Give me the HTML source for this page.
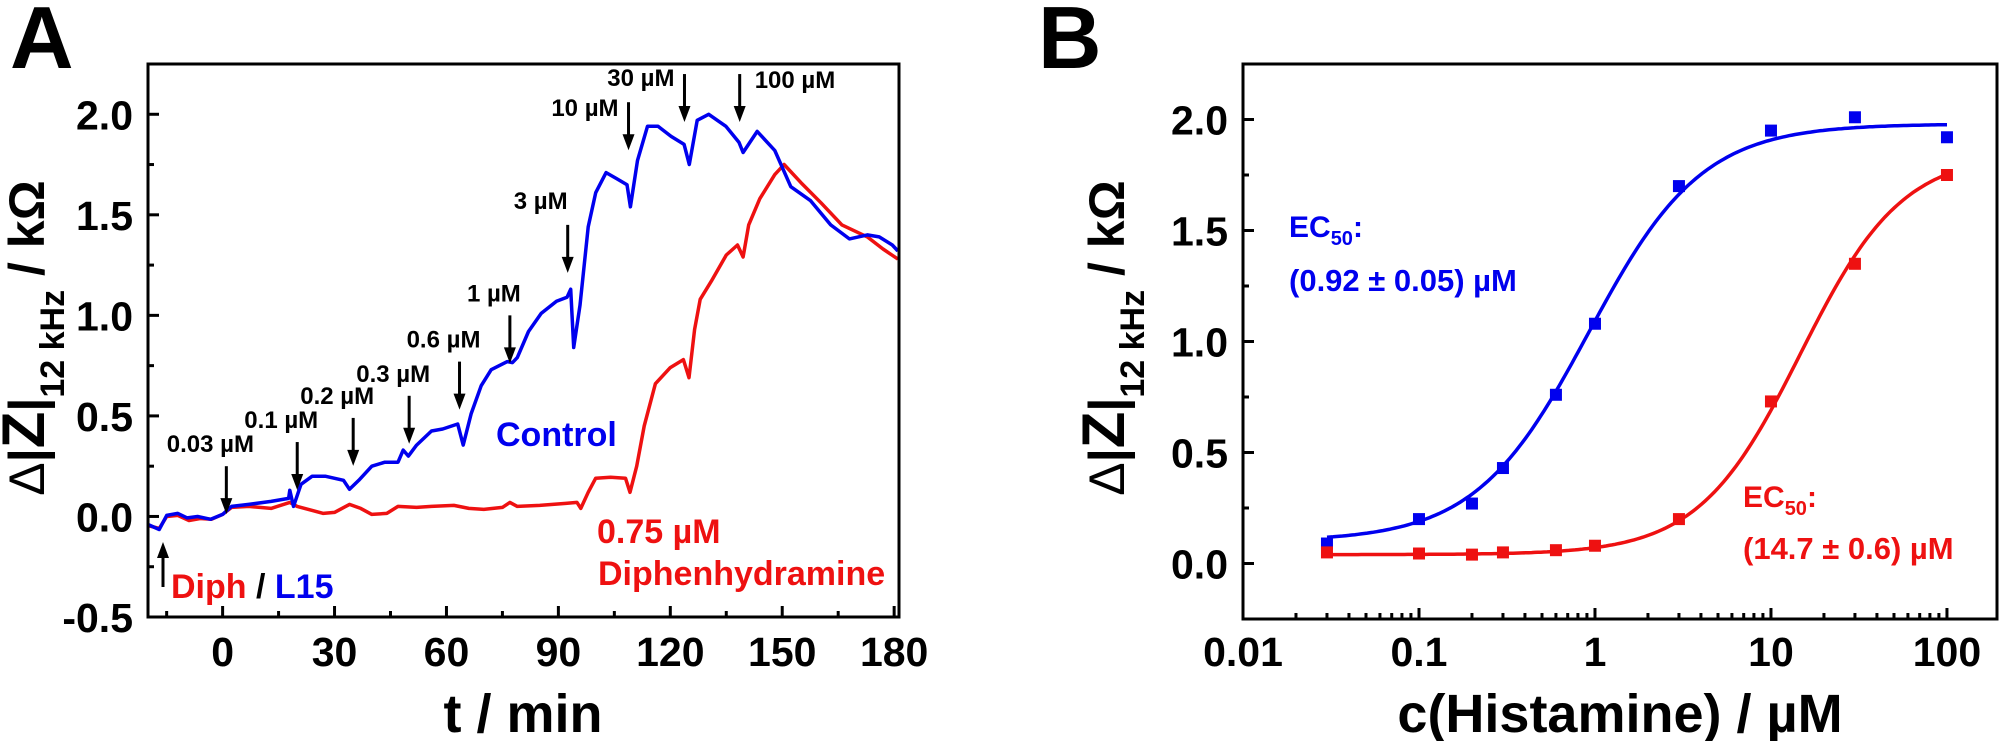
<!DOCTYPE html>
<html><head><meta charset="utf-8"><style>
html,body{margin:0;padding:0;background:#fff;}
svg{display:block;font-family:"Liberation Sans",Arial,sans-serif;font-weight:bold;}
</style></head><body>
<svg id="fig" width="2000" height="741" viewBox="0 0 2000 741" xmlns="http://www.w3.org/2000/svg">
<g id="pa"></g>
<g id="pb"></g>
</svg>
<script>
// ---------- Panel A data ----------
const tBlue=[-20,-17,-15,-12,-9.5,-6.7,-3.2,0,2.4,7,13,17.7,18,19,21,24,27.5,32.4,34,36.5,40,43.5,47,48.4,49.8,52,56,59,63,64.5,66.6,69.3,72,76.3,77.7,79,82,85.4,89.5,92.3,93.3,94.1,95.8,98,100,102.8,105.6,108.4,109.3,111.2,113.9,116.7,120.2,123.7,125.1,127.2,130.3,134.9,138.4,139.5,143.3,148,152.3,157.6,163,168,172.8,176,179.5,181];
const vBlue=[-0.04,-0.065,0.005,0.015,-0.007,0,-0.014,0.01,0.05,0.06,0.075,0.09,0.13,0.05,0.16,0.2,0.2,0.18,0.135,0.18,0.25,0.27,0.27,0.33,0.3,0.355,0.425,0.435,0.46,0.355,0.51,0.65,0.73,0.77,0.765,0.79,0.92,1.01,1.07,1.09,1.13,0.84,1.05,1.44,1.61,1.71,1.68,1.65,1.54,1.77,1.94,1.94,1.89,1.85,1.75,1.97,2.0,1.94,1.86,1.81,1.915,1.82,1.64,1.57,1.45,1.38,1.40,1.39,1.35,1.32];
const tRed=[-20,-17,-15,-12,-9,-6,-3,0,2.4,7,13,18,20,24,27,30,34,37,40,44,47,52,56,62,66,70,75,77,79,85,92,95,96,98,100,104,108,109.2,111,113,116,120,123.5,125,126.5,128,131,135,138,139.5,141,144,148,150.5,155,160.4,166,172.8,177,181];
const vRed=[-0.045,-0.06,0,0.005,-0.02,-0.01,-0.014,0.01,0.045,0.05,0.04,0.07,0.05,0.03,0.015,0.02,0.06,0.04,0.01,0.015,0.05,0.045,0.05,0.055,0.04,0.035,0.045,0.07,0.05,0.055,0.065,0.07,0.04,0.12,0.19,0.195,0.19,0.12,0.25,0.45,0.66,0.74,0.78,0.69,0.93,1.08,1.17,1.3,1.35,1.29,1.45,1.58,1.7,1.75,1.66,1.56,1.45,1.39,1.33,1.28];
const xTicksA=[0,30,60,90,120,150,180];
const yTicksA=[-0.5,0.0,0.5,1.0,1.5,2.0];
const yTickLabelsA=["-0.5","0.0","0.5","1.0","1.5","2.0"];
const doseLabels=["0.03 µM","0.1 µM","0.2 µM","0.3 µM","0.6 µM","1 µM","3 µM","10 µM","30 µM","100 µM"];
const doseTimes=[1,20,35,50,63.5,77,92.5,108.8,123.8,138.6];
const doseArrowTopVal=[0.25,0.37,0.49,0.6,0.77,1.0,1.45,2.06,2.2,2.2];
// ---------- Panel B data ----------
const conc=[0.03,0.1,0.2,0.3,0.6,1,3,10,30,100];
const respBlue=[0.09,0.20,0.27,0.43,0.76,1.08,1.70,1.95,2.01,1.92];
const respRed=[0.05,0.045,0.04,0.05,0.06,0.08,0.20,0.73,1.35,1.75];
const xTicksB=[0.01,0.1,1,10,100];
const xTickLabelsB=["0.01","0.1","1","10","100"];
const yTicksB=[0.0,0.5,1.0,1.5,2.0];
const yTickLabelsB=["0.0","0.5","1.0","1.5","2.0"];
const fitBlue={bottom:0.1,top:1.98,ec50:0.92,n:1.35};
const fitRed={bottom:0.04,top:1.85,ec50:14.7,n:1.5};

const NS="http://www.w3.org/2000/svg";
function mk(parent,tag,attrs,text){const e=document.createElementNS(NS,tag);for(const k in attrs)e.setAttribute(k,attrs[k]);if(text!==undefined)e.textContent=text;parent.appendChild(e);return e;}
const BLUE="#0000ee",RED="#ee1111";

// Panel A axes
const A={l:148,r:899,t:64,b:617,x0:-20,x1:181.3,y0:-0.5,y1:2.25};
const ax=t=>A.l+(t-A.x0)/(A.x1-A.x0)*(A.r-A.l);
const ay=v=>A.b-(v-A.y0)/(A.y1-A.y0)*(A.b-A.t);
const pa=document.getElementById('pa');
function pathFrom(xs,ys,fx,fy){return xs.map((x,i)=>(i?'L':'M')+fx(x).toFixed(1)+','+fy(ys[i]).toFixed(1)).join(' ');}
let e;
e=mk(pa,'path',{d:pathFrom(tRed,vRed,ax,ay),fill:'none',stroke:RED,'stroke-width':3.5,'stroke-linejoin':'round'});

e=mk(pa,'path',{d:pathFrom(tBlue,vBlue,ax,ay),fill:'none',stroke:BLUE,'stroke-width':3.5,'stroke-linejoin':'round'});

e=mk(pa,'rect',{x:A.l,y:A.t,width:A.r-A.l,height:A.b-A.t,fill:'none',stroke:'#000','stroke-width':3});

xTicksA.forEach(t=>{mk(pa,'line',{x1:ax(t),x2:ax(t),y1:A.b,y2:A.b-11,stroke:'#000','stroke-width':3});
 e=mk(pa,'text',{x:ax(t),y:666,'text-anchor':'middle','font-size':41},String(t));
 });
[-15,15,45,75,105,135,165].forEach(t=>mk(pa,'line',{x1:ax(t),x2:ax(t),y1:A.b,y2:A.b-6,stroke:'#000','stroke-width':3}));
yTicksA.forEach((v,i)=>{mk(pa,'line',{x1:A.l,x2:A.l+11,y1:ay(v),y2:ay(v),stroke:'#000','stroke-width':3});
 e=mk(pa,'text',{x:133,y:ay(v)+15,'text-anchor':'end','font-size':41},yTickLabelsA[i]);
 });
[-0.25,0.25,0.75,1.25,1.75].forEach(v=>mk(pa,'line',{x1:A.l,x2:A.l+6,y1:ay(v),y2:ay(v),stroke:'#000','stroke-width':3}));
// dose arrows
function arrowDown(g,x,ytop,ytip){mk(g,'line',{x1:x,x2:x,y1:ytop,y2:ytip-12,stroke:'#000','stroke-width':3});
 mk(g,'polygon',{points:`${x-6},${ytip-16} ${x+6},${ytip-16} ${x},${ytip}`,fill:'#000'});}
doseLabels.forEach((lab,i)=>{
 const x=ax(doseTimes[i]);const yt=ay(doseArrowTopVal[i]);const ytip=yt+48;
 const g=mk(pa,'g',{});
 
 arrowDown(g,x,yt,ytip);
 let tx,anchor,ty;
 if(i===9){tx=x+15;anchor='start';ty=yt+14;}
 else if(i>=7){tx=x-10;anchor='end';ty=yt+(i===7?14:12);}
 else if(i===6){tx=x-27;anchor='middle';ty=yt-16;}
 else {tx=x-16;anchor='middle';ty=yt-14;}
 e=mk(pa,'text',{x:tx,y:ty,'text-anchor':anchor,'font-size':24},lab);
 
});
// up arrow
mk(pa,'line',{x1:163,x2:163,y1:587,y2:554,stroke:'#000','stroke-width':3});
mk(pa,'polygon',{points:'157,558 169,558 163,542',fill:'#000'});
e=mk(pa,'text',{x:171,y:598,'font-size':34});

mk(e,'tspan',{fill:RED},'Diph');mk(e,'tspan',{fill:'#000'},' / ');mk(e,'tspan',{fill:BLUE},'L15');
e=mk(pa,'text',{x:496,y:446,'font-size':34,fill:BLUE},'Control');

e=mk(pa,'text',{x:597,y:543,'font-size':34,fill:RED},'0.75 µM');

e=mk(pa,'text',{x:598,y:585,'font-size':34,fill:RED},'Diphenhydramine');

e=mk(pa,'text',{x:523,y:732,'text-anchor':'middle','font-size':54},'t / min');

e=mk(pa,'text',{x:10,y:68,'font-size':88},'A');


function ylabel(g,cx,cy,name){
 const t=mk(g,'text',{transform:`translate(${cx},${cy}) rotate(-90)`,'text-anchor':'middle','font-size':50});
 
 mk(t,'tspan',{'font-weight':'normal'},'Δ');mk(t,'tspan',{},'|');mk(t,'tspan',{'font-size':60},'Z');mk(t,'tspan',{},'|');
 mk(t,'tspan',{'font-size':34,dy:20},'12 kHz');mk(t,'tspan',{dy:-20},' / kΩ');
}
ylabel(pa,44,338,'y-axis-title-a');

// Panel B
const B={l:1243,r:1998,t:64,b:619,x0:-2,x1:2.29,y0:-0.25,y1:2.25};
const bx=c=>B.l+(Math.log10(c)-B.x0)/(B.x1-B.x0)*(B.r-B.l);
const by=v=>B.b-(v-B.y0)/(B.y1-B.y0)*(B.b-B.t);
const pb=document.getElementById('pb');
function hill(p,c){return p.bottom+(p.top-p.bottom)/(1+Math.pow(p.ec50/c,p.n));}
function fitPath(p){let d='';for(let i=0;i<=200;i++){const lc=Math.log10(0.03)+i/200*(Math.log10(100)-Math.log10(0.03));const c=Math.pow(10,lc);d+=(i?'L':'M')+bx(c).toFixed(1)+','+by(hill(p,c)).toFixed(1);}return d;}
e=mk(pb,'path',{d:fitPath(fitBlue),fill:'none',stroke:BLUE,'stroke-width':3.5});

e=mk(pb,'path',{d:fitPath(fitRed),fill:'none',stroke:RED,'stroke-width':3.5});

conc.forEach((c,i)=>{
 e=mk(pb,'rect',{x:bx(c)-6,y:by(respBlue[i])-6,width:12,height:12,fill:BLUE});
 
 e=mk(pb,'rect',{x:bx(c)-6,y:by(respRed[i])-6,width:12,height:12,fill:RED});
 
});
e=mk(pb,'rect',{x:B.l,y:B.t,width:B.r-B.l-1,height:B.b-B.t,fill:'none',stroke:'#000','stroke-width':3});

xTicksB.forEach((c,i)=>{mk(pb,'line',{x1:bx(c),x2:bx(c),y1:B.b,y2:B.b-11,stroke:'#000','stroke-width':3});
 e=mk(pb,'text',{x:bx(c),y:666,'text-anchor':'middle','font-size':41},xTickLabelsB[i]);
 });
[0.01,0.1,1,10,100].forEach(d=>{for(let k=2;k<=9;k++){const c=d*k;if(Math.log10(c)<B.x1)mk(pb,'line',{x1:bx(c),x2:bx(c),y1:B.b,y2:B.b-6,stroke:'#000','stroke-width':3});}});
yTicksB.forEach((v,i)=>{mk(pb,'line',{x1:B.l,x2:B.l+11,y1:by(v),y2:by(v),stroke:'#000','stroke-width':3});
 e=mk(pb,'text',{x:1228,y:by(v)+15,'text-anchor':'end','font-size':41},yTickLabelsB[i]);
 });
[-0.25,0.25,0.75,1.25,1.75].forEach(v=>mk(pb,'line',{x1:B.l,x2:B.l+6,y1:by(v),y2:by(v),stroke:'#000','stroke-width':3}));
function ec(g,x,y1,y2,col,val,name){
 const t=mk(g,'text',{x:x,y:y1,'font-size':30,fill:col});
 mk(t,'tspan',{},'EC');mk(t,'tspan',{'font-size':20,dy:8},'50');mk(t,'tspan',{dy:-8},':');
 const t2=mk(g,'text',{x:x,y:y2,'font-size':31,fill:col},val);
}
ec(pb,1289,237,291,BLUE,'(0.92 ± 0.05) µM','ec50-control');
ec(pb,1743,507,559,RED,'(14.7 ± 0.6) µM','ec50-diph');
e=mk(pb,'text',{x:1620,y:732,'text-anchor':'middle','font-size':54},'c(Histamine) / µM');

e=mk(pb,'text',{x:1038,y:68,'font-size':88},'B');

ylabel(pb,1124,338,'y-axis-title-b');
</script>
</body></html>
